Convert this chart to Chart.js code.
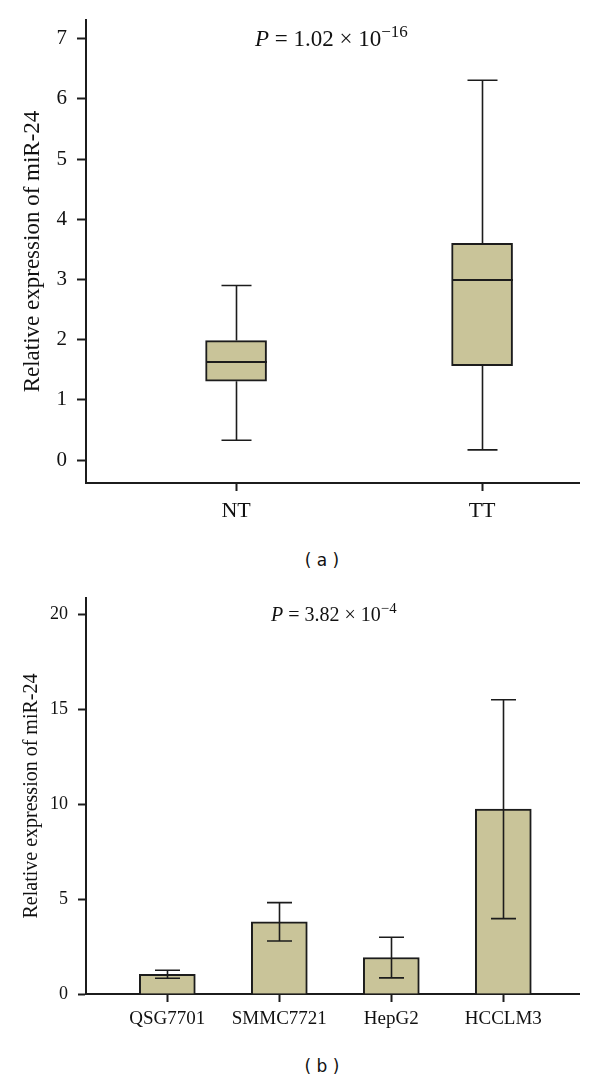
<!DOCTYPE html>
<html>
<head>
<meta charset="utf-8">
<script src="https://cdn.jsdelivr.net/npm/chart.js@4/dist/chart.umd.min.js"></script>
<style>
html,body{margin:0;padding:0;background:#fff;}
#wrap{position:relative;width:600px;height:1082px;overflow:hidden;background:#fff;}
canvas{position:absolute;left:0;}
.ptext{position:absolute;font-family:"Liberation Serif","Times New Roman",serif;color:#111;white-space:nowrap;line-height:1;}
.ptext i{font-style:italic;}
.ptext sup{font-size:0.74em;vertical-align:0;position:relative;top:-0.55em;}
.cap{position:absolute;left:222px;width:200px;text-align:center;font-family:"DejaVu Sans",sans-serif;font-size:17px;color:#111;line-height:1;}
</style>
</head>
<body>
<div id="wrap">
  <canvas id="chartA" width="600" height="530" style="top:0px;"></canvas>
  <div class="ptext" id="pA" style="left:255px;top:27px;font-size:23px;"><i>P</i> = 1.02 × 10<sup>−16</sup></div>
  <div class="cap" style="top:552px;">( a )</div>
  <canvas id="chartB" width="600" height="470" style="top:575px;"></canvas>
  <div class="ptext" id="pB" style="left:271px;top:604px;font-size:20px;"><i>P</i> = 3.82 × 10<sup>−4</sup></div>
  <div class="cap" style="top:1058px;">( b )</div>
</div>
<script>
// ---- Panel (a): box plot data ----
const groups = ['NT', 'TT'];
const groupPos = [1, 2];
const whiskerMin = [0.33, 0.17];
const q1 = [1.31, 1.57];
const median = [1.63, 2.99];
const q3 = [1.985, 3.60];
const whiskerMax = [2.90, 6.31];
const yTicksA = [0, 1, 2, 3, 4, 5, 6, 7];

// ---- Panel (b): bar chart data ----
const cellLines = ['QSG7701', 'SMMC7721', 'HepG2', 'HCCLM3'];
const cellPos = [0, 1, 2, 3];
const meanExpr = [1.04, 3.80, 1.92, 9.73];
const sdExpr = [0.21, 1.01, 1.07, 5.76];
const yTicksB = [0, 5, 10, 15, 20];

const FILL = '#c9c499';
const INK = '#1c1c1c';
const SERIF = '"Liberation Serif", "Times New Roman", serif';
const yTitle = 'Relative expression of miR-24';

Chart.defaults.font.family = SERIF;
Chart.defaults.color = '#111';

const boxWhiskers = {
  id: 'boxWhiskers',
  afterDatasetsDraw(chart) {
    const xs = chart.scales.x, ys = chart.scales.y, ctx = chart.ctx;
    const meta = chart.getDatasetMeta(0);
    ctx.save();
    ctx.strokeStyle = INK;
    ctx.lineCap = 'butt';
    groupPos.forEach((g, i) => {
      const cx = Math.round(xs.getPixelForValue(g)) + 0.5;
      const bw = meta.data[i].width;
      const cap = 30;
      const pMax = ys.getPixelForValue(whiskerMax[i]);
      const pMin = ys.getPixelForValue(whiskerMin[i]);
      const pQ3 = ys.getPixelForValue(q3[i]);
      const pQ1 = ys.getPixelForValue(q1[i]);
      const pMed = ys.getPixelForValue(median[i]);
      ctx.lineWidth = 1.6;
      ctx.beginPath();
      ctx.moveTo(cx, pQ3); ctx.lineTo(cx, pMax);
      ctx.moveTo(cx, pQ1); ctx.lineTo(cx, pMin);
      ctx.moveTo(cx - cap / 2, pMax); ctx.lineTo(cx + cap / 2, pMax);
      ctx.moveTo(cx - cap / 2, pMin); ctx.lineTo(cx + cap / 2, pMin);
      ctx.stroke();
      ctx.lineWidth = 2;
      ctx.beginPath();
      ctx.moveTo(cx - bw / 2, pMed); ctx.lineTo(cx + bw / 2, pMed);
      ctx.stroke();
    });
    ctx.restore();
  }
};

const errorBars = {
  id: 'errorBars',
  afterDatasetsDraw(chart) {
    const xs = chart.scales.x, ys = chart.scales.y, ctx = chart.ctx;
    ctx.save();
    ctx.strokeStyle = INK;
    ctx.lineWidth = 1.6;
    cellPos.forEach((c, i) => {
      const cx = Math.round(xs.getPixelForValue(c)) + 0.5;
      const top = ys.getPixelForValue(meanExpr[i] + sdExpr[i]);
      const bot = ys.getPixelForValue(meanExpr[i] - sdExpr[i]);
      const cap = 25;
      ctx.beginPath();
      ctx.moveTo(cx, top); ctx.lineTo(cx, bot);
      ctx.moveTo(cx - cap / 2, top); ctx.lineTo(cx + cap / 2, top);
      ctx.moveTo(cx - cap / 2, bot); ctx.lineTo(cx + cap / 2, bot);
      ctx.stroke();
    });
    ctx.restore();
  }
};

function axisGrid(len) {
  return { display: true, offset: false, drawOnChartArea: false, drawTicks: true, tickLength: len, tickColor: INK, tickWidth: 2, color: INK };
}
function axisBorder() { return { display: true, color: INK, width: 2 }; }

// ---- Chart (a) ----
new Chart(document.getElementById('chartA'), {
  type: 'bar',
  data: {
    datasets: [{
      data: groupPos.map((g, i) => ({ x: g, y: [q1[i], q3[i]] })),
      backgroundColor: FILL,
      borderColor: INK,
      borderWidth: 2,
      borderSkipped: false,
      barThickness: 61
    }]
  },
  options: {
    responsive: false, animation: false, devicePixelRatio: 1,
    layout: { padding: { top: 20, right: 21, left: 0, bottom: 0 } },
    plugins: { legend: { display: false }, tooltip: { enabled: false } },
    scales: {
      x: {
        type: 'linear', min: 0.39, max: 2.394, offset: false,
        grid: axisGrid(8), border: axisBorder(),
        afterBuildTicks: s => { s.ticks = groupPos.map(v => ({ value: v })); },
        ticks: { padding: 7, font: { size: 22 }, color: '#111', callback: (v) => groups[groupPos.indexOf(v)] },
        afterFit: s => { s.height = 530 - 483; s.paddingLeft = 0; s.paddingRight = 0; }
      },
      y: {
        type: 'linear', min: -0.38, max: 7.31,
        grid: axisGrid(9), border: axisBorder(),
        afterBuildTicks: s => { s.ticks = yTicksA.map(v => ({ value: v })); },
        ticks: { padding: 10, font: { size: 21 }, color: '#111' },
        title: { display: true, text: yTitle, font: { size: 23 }, color: '#111', padding: { top: 19, bottom: 0 } },
        afterFit: s => { s.width = 86; s.paddingTop = 0; s.paddingBottom = 0; }
      }
    }
  },
  plugins: [boxWhiskers]
});

// ---- Chart (b) ----
new Chart(document.getElementById('chartB'), {
  type: 'bar',
  data: {
    datasets: [{
      data: cellPos.map((c, i) => ({ x: c, y: meanExpr[i] })),
      backgroundColor: FILL,
      borderColor: INK,
      borderWidth: 2,
      borderSkipped: 'bottom',
      barThickness: 56
    }]
  },
  options: {
    responsive: false, animation: false, devicePixelRatio: 1,
    layout: { padding: { top: 23, right: 21, left: 0, bottom: 0 } },
    plugins: { legend: { display: false }, tooltip: { enabled: false } },
    scales: {
      x: {
        type: 'linear', min: -0.726, max: 3.676, offset: false,
        grid: axisGrid(8), border: axisBorder(),
        afterBuildTicks: s => { s.ticks = cellPos.map(v => ({ value: v })); },
        ticks: { padding: 6, font: { size: 19 }, color: '#111', callback: (v) => cellLines[cellPos.indexOf(v)] },
        afterFit: s => { s.height = 470 - 419; s.paddingLeft = 0; s.paddingRight = 0; }
      },
      y: {
        type: 'linear', min: 0, max: 20.85,
        grid: axisGrid(8), border: axisBorder(),
        afterBuildTicks: s => { s.ticks = yTicksB.map(v => ({ value: v })); },
        ticks: { padding: 10, font: { size: 18 }, color: '#111' },
        title: { display: true, text: yTitle, font: { size: 20 }, color: '#111', padding: { top: 20, bottom: 0 } },
        afterFit: s => { s.width = 86; s.paddingTop = 0; s.paddingBottom = 0; }
      }
    }
  },
  plugins: [errorBars]
});
</script>
</body>
</html>
